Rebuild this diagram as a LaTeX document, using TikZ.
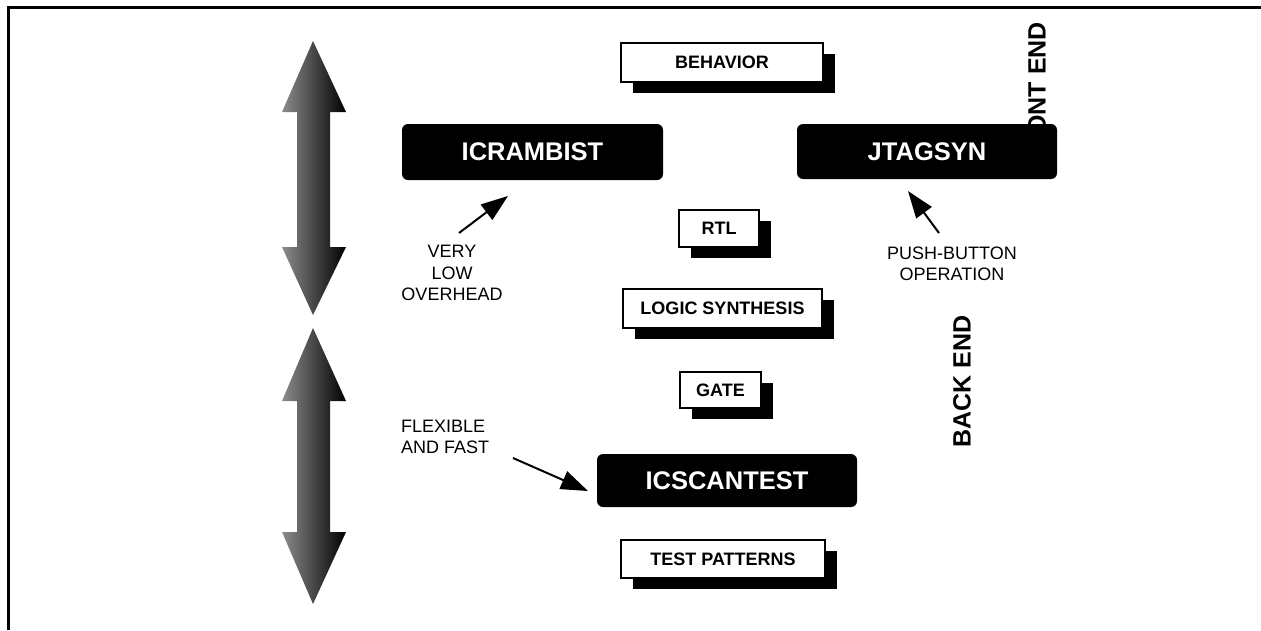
\documentclass[tikz,border=0pt]{standalone}
\usepackage{fontspec}
\setmainfont{Liberation Sans}
\usetikzlibrary{arrows.meta,shadows}
\definecolor{arrowlight}{RGB}{140,140,140}
\begin{document}
\begin{tikzpicture}[x=1pt,y=-1pt,
  shbox/.style={draw, line width=1.6pt, fill=white, inner sep=0pt,
    font=\fontsize{18}{21}\selectfont\bfseries,
    drop shadow={shadow xshift=12pt, shadow yshift=-11pt, opacity=1, fill=black}},
  blkbox/.style={fill=black, rounded corners=6pt, text=white, inner sep=0pt,
    font=\fontsize{25.5}{30}\selectfont\bfseries},
  note/.style={font=\fontsize{18}{21.5}\selectfont, align=center, inner sep=0pt},
  sidelabel/.style={font=\fontsize{25}{30}\selectfont\bfseries, rotate=90, inner sep=0pt},
  ptr/.style={line width=2pt, -{Triangle[length=27pt,width=19pt]}},
  bigarrow/.style={left color=arrowlight, right color=black}]
\useasboundingbox (0,0) rectangle (1261,630);
% frame
\draw[line width=3pt] (8,630) -- (8,7.5) -- (1261,7.5);
% big double arrows
\shade[bigarrow] (313,41) -- (346,112) -- (330,112) -- (330,247) -- (346,247) -- (313,315)
  -- (282,247) -- (297,247) -- (297,112) -- (282,112) -- cycle;
\shade[bigarrow] (313,328) -- (346,401) -- (330,401) -- (330,532) -- (346,532) -- (313,604)
  -- (282,532) -- (297,532) -- (297,401) -- (282,401) -- cycle;
% side labels
\node[sidelabel] (front) at (1037,95) {FRONT END};
\node[sidelabel] (back) at (962,381.5) {BACK END};
% shadow boxes
\node[shbox, minimum width=202pt, minimum height=39pt] (behavior) at (722,62.5) {BEHAVIOR};
\node[shbox, minimum width=80pt, minimum height=37pt] (rtl) at (719,228.5) {RTL};
\node[shbox, minimum width=199pt, minimum height=39pt] (logic) at (722.5,308.5) {LOGIC SYNTHESIS};
\node[shbox, minimum width=81pt, minimum height=36pt] (gate) at (720.5,390) {GATE};
\node[shbox, minimum width=204pt, minimum height=38pt] (testpat) at (723,559) {TEST PATTERNS};
% black boxes
\node[blkbox, minimum width=261pt, minimum height=56pt] (icram) at (532.5,152) {ICRAMBIST};
\node[blkbox, minimum width=260pt, minimum height=55pt] (jtag) at (927,151.5) {JTAGSYN};
\node[blkbox, minimum width=260pt, minimum height=53pt] (icscan) at (727,480.5) {ICSCANTEST};
% notes
\node[note] (vlo) at (452,273) {VERY\\LOW\\OVERHEAD};
\node[note] (push) at (952,264) {PUSH-BUTTON\\OPERATION};
\node[note, align=left, anchor=west] (flex) at (401,437) {FLEXIBLE\\AND FAST};
% pointers
\coordinate (vlotail) at (459,233);
\coordinate (vlotip) at (508,196);
\coordinate (pushtail) at (939,233);
\coordinate (pushtip) at (908,191);
\coordinate (flextail) at (513,458);
\coordinate (flextip) at (588,491);
\draw[ptr] (vlotail) -- (vlotip);
\draw[ptr] (pushtail) -- (pushtip);
\draw[ptr] (flextail) -- (flextip);
\end{tikzpicture}
\end{document}
